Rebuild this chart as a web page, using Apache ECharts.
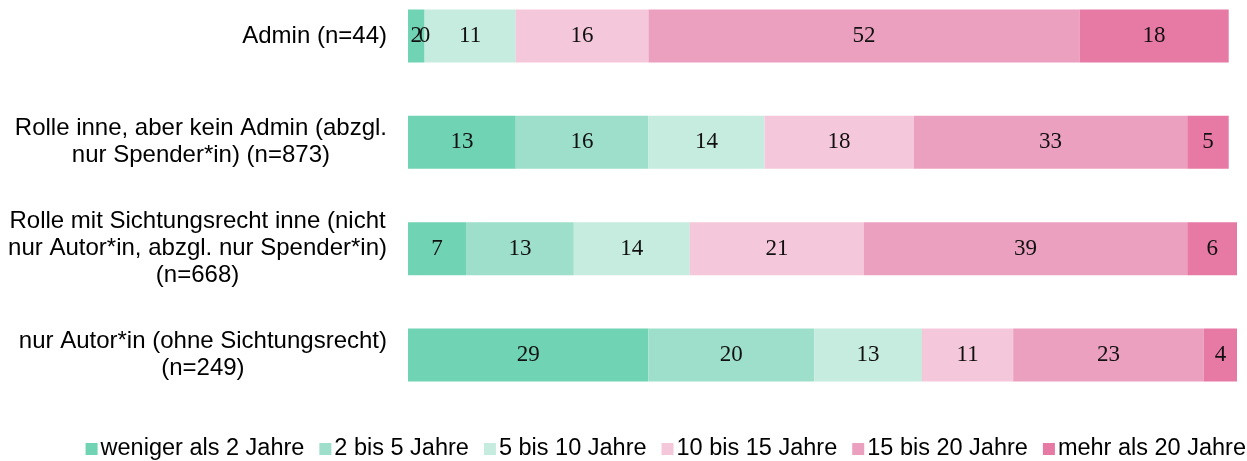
<!DOCTYPE html>
<html>
<head>
<meta charset="utf-8">
<script src="https://cdn.jsdelivr.net/npm/echarts@6/dist/echarts.min.js"></script>
<style>
html,body{margin:0;padding:0;background:#fff;}
#chart{width:1247px;height:461px;}
</style>
</head>
<body>
<div id="chart"></div>
<script>
const categories = [
  'Admin (n=44)',
  'Rolle inne, aber kein Admin (abzgl.\nnur Spender*in) (n=873)',
  'Rolle mit Sichtungsrecht inne (nicht\nnur Autor*in, abzgl. nur Spender*in)\n(n=668)',
  'nur Autor*in (ohne Sichtungsrecht)\n(n=249)'
];
const seriesNames = ['weniger als 2 Jahre', '2 bis 5 Jahre', '5 bis 10 Jahre', '10 bis 15 Jahre', '15 bis 20 Jahre', 'mehr als 20 Jahre'];
const weniger2 = [2, 13, 7, 29];
const bis5 = [0, 16, 13, 20];
const bis10 = [11, 14, 14, 13];
const bis15 = [16, 18, 21, 11];
const bis20 = [52, 33, 39, 23];
const mehr20 = [18, 5, 6, 4];
const colors = ['#70D3B3', '#9DDFCA', '#C6EBDF', '#F5C7DA', '#ECA0BF', '#E779A5'];

const allValues = [weniger2, bis5, bis10, bis15, bis20, mehr20];

const chart = echarts.init(document.getElementById('chart'), null, {renderer: 'canvas'});
chart.setOption({
  animation: false,
  backgroundColor: '#ffffff',
  grid: {left: 408, right: 10, top: 36, bottom: 106, containLabel: false},
  xAxis: {type: 'value', min: 0, max: 100, show: false},
  yAxis: {
    type: 'category',
    inverse: true,
    boundaryGap: false,
    data: categories,
    axisLine: {show: false},
    axisTick: {show: false},
    splitLine: {show: false},
    axisLabel: {
      margin: 21,
      align: 'right',
      formatter: function (v) {
        return v.split('\n').map(function (l) { return '{c|' + l + '}'; }).join('\n');
      },
      rich: {
        c: {align: 'center', fontFamily: '"Liberation Sans", Arial, sans-serif', fontSize: 24, lineHeight: 27, color: '#000'}
      }
    }
  },
  legend: {
    bottom: 0,
    right: 1,
    padding: 0,
    itemWidth: 12,
    itemHeight: 12,
    itemGap: 15,
    icon: 'rect',
    textStyle: {fontFamily: '"Liberation Sans", Arial, sans-serif', fontSize: 23.5, color: '#000', padding: [0, 0, 0, -2]},
    data: seriesNames
  },
  series: seriesNames.map(function (name, i) {
    return {
      name: name,
      type: 'bar',
      stack: 'total',
      barWidth: 53,
      itemStyle: {color: colors[i]},
      label: {
        show: true,
        position: 'inside',
        fontFamily: '"Liberation Serif", "Times New Roman", serif',
        fontSize: 23,
        color: '#111',
        formatter: function (p) { return String(p.value); }
      },
      data: allValues[i]
    };
  })
});
</script>
</body>
</html>
